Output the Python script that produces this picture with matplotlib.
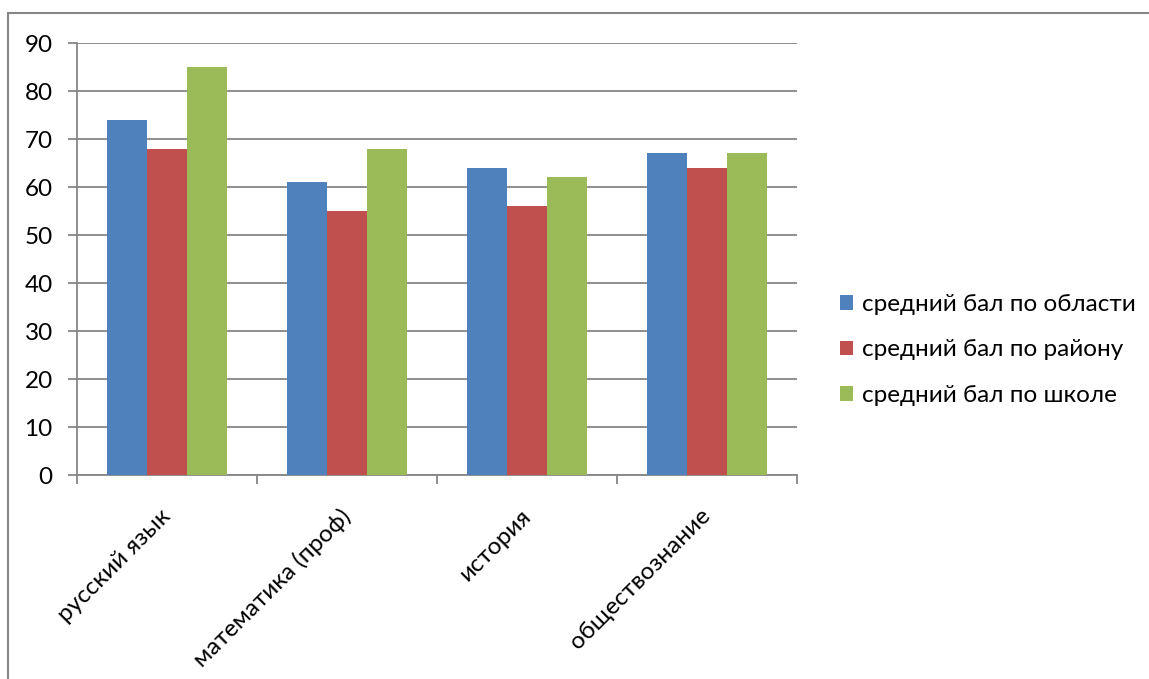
import numpy as np
import matplotlib.pyplot as plt
from matplotlib.patches import Rectangle

# ── Data ────────────────────────────────────────────────────────────────────
subjects = ["русский язык", "математика (проф)", "история", "обществознание"]
series_names = ["средний бал по области", "средний бал по району", "средний бал по школе"]
oblast = [74, 61, 64, 67]
rayon = [68, 55, 56, 64]
shkola = [85, 68, 62, 67]

colors = ["#4F81BD", "#C0504D", "#9BBB59"]
GRID = "#868686"
FS = 17.5

plt.rcParams["font.family"] = ["Lato", "DejaVu Sans"]

W, H = 1149, 679
fig = plt.figure(figsize=(W / 100, H / 100), dpi=100)

# plot area in pixels: left 77, right 797, top 43, bottom 475
ax = fig.add_axes([77 / W, 1 - 475 / H, (797 - 77) / W, (475 - 43) / H])

x = np.arange(len(subjects)) + 0.5
bw = 40 / 180
for i, (vals, name) in enumerate(zip([oblast, rayon, shkola], series_names)):
    ax.bar(x + (i - 1) * bw, vals, width=bw, color=colors[i], label=name,
           zorder=3, linewidth=0)

ax.set_xlim(0, len(subjects))
ax.set_ylim(0, 90)
ax.set_yticks(range(0, 91, 10))
ax.yaxis.grid(True, color=GRID, linewidth=1.3, zorder=0)

ax.set_xticks(np.arange(len(subjects) + 1))
ax.set_xticklabels([])
ax.set_xticks(x, minor=True)
ax.set_xticklabels(subjects, minor=True, rotation=45, ha="right", va="center",
                   rotation_mode="anchor", fontsize=FS)
ax.tick_params(axis="x", which="minor", length=0, pad=27)
ax.tick_params(axis="x", which="major", length=6.5, width=1.3, color=GRID)
ax.tick_params(axis="y", length=6.5, width=1.3, color=GRID, labelsize=FS, pad=11)

for side in ["top", "right"]:
    ax.spines[side].set_visible(False)
for side in ["left", "bottom"]:
    ax.spines[side].set_color(GRID)
    ax.spines[side].set_linewidth(1.3)

ax.legend(loc="center left", bbox_to_anchor=(818 / W, 1 - 350 / H),
          bbox_transform=fig.transFigure, frameon=False, fontsize=FS,
          handlelength=0.55, handleheight=0.55, handletextpad=0.35,
          labelspacing=1.0)

# outer chart border (cropped at right and bottom)
fig.patches.append(Rectangle((8 / W, -0.1), 1.2, 1 - 13 / H + 0.1,
                             transform=fig.transFigure, fill=False,
                             edgecolor=GRID, linewidth=1.5))

fig.savefig("out.png", dpi=100)
